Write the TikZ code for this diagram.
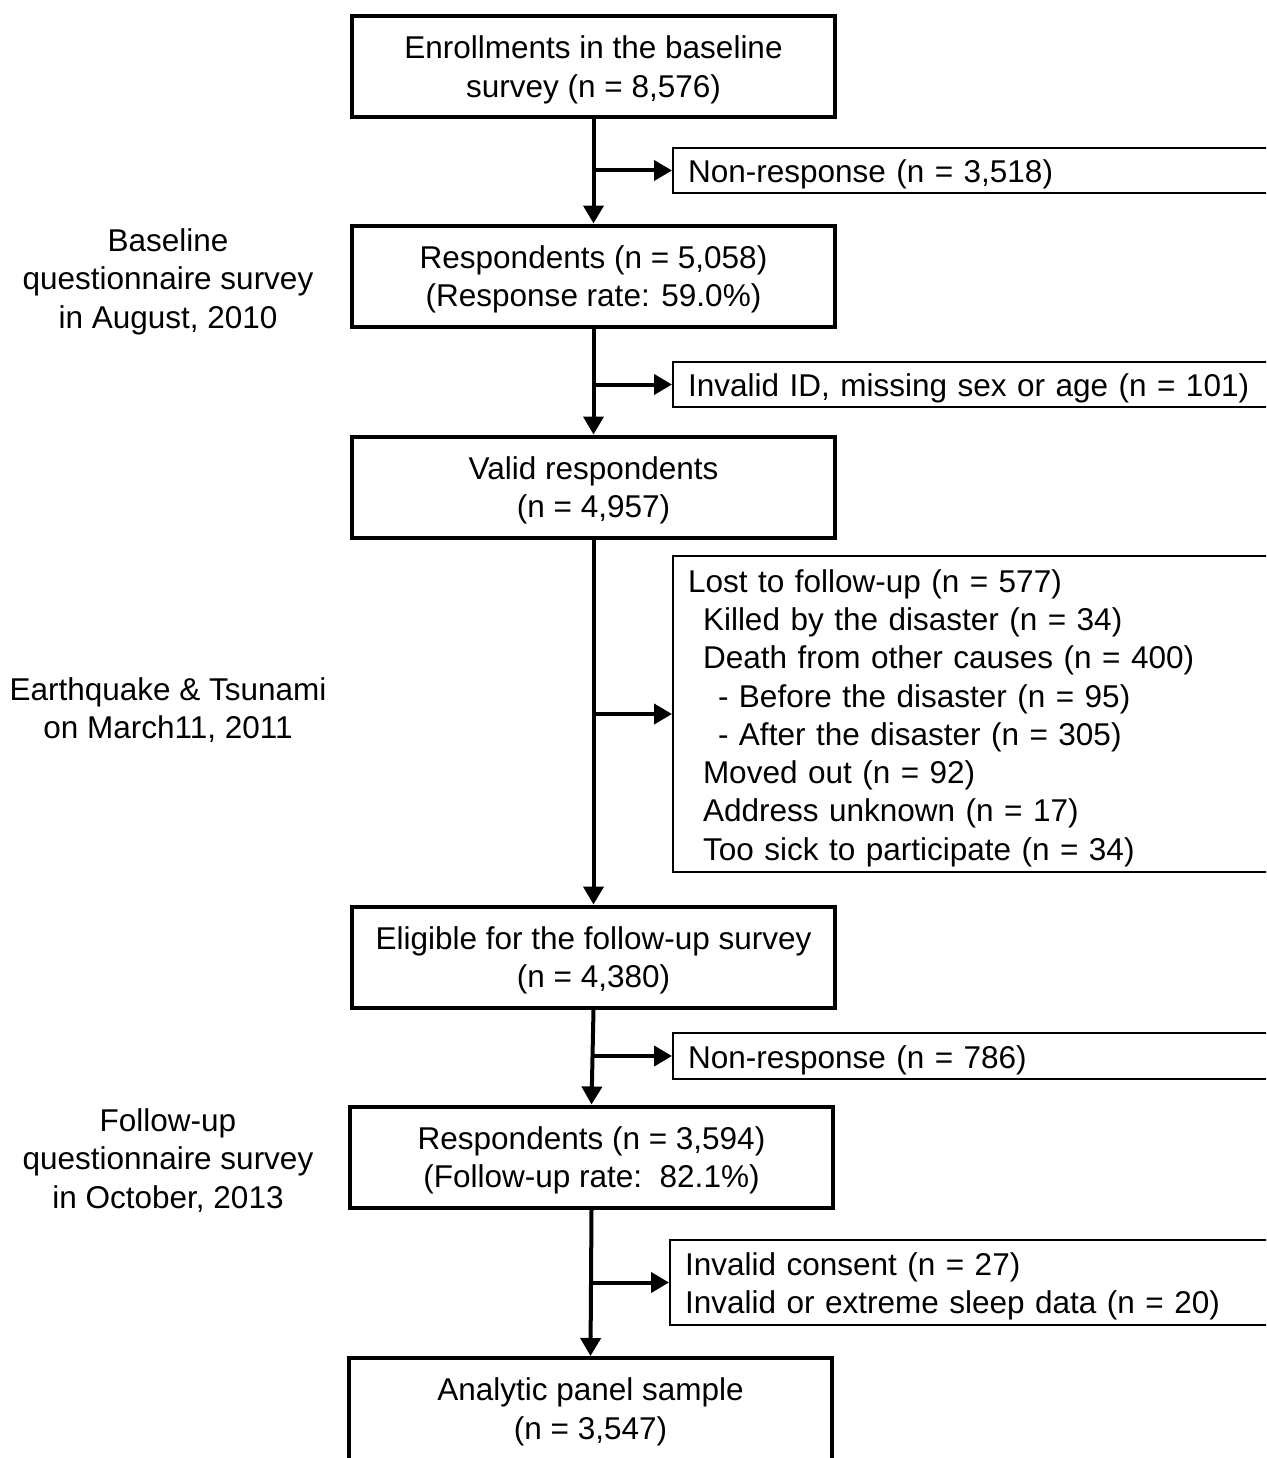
\documentclass[tikz,border=0pt]{standalone}
\usepackage{fontspec}
\setmainfont{Liberation Sans}
\usetikzlibrary{arrows.meta}
\begin{document}
\begin{tikzpicture}[x=1pt,y=-1pt]
\tikzstyle{every node}+=[inner sep=0pt, font=\fontsize{31.5pt}{38.3pt}\selectfont]
\tikzstyle{mainbox}=[draw=black, line width=4pt, minimum width=483pt, minimum height=101pt, align=center, text depth=0pt]
\tikzstyle{sidebox}=[draw=black, line width=2pt, anchor=west, text width=610pt, inner xsep=15pt, align=left, execute at begin node={\rule{0pt}{31pt}}]
\tikzstyle{period}=[align=center, text depth=0pt]
\tikzstyle{arr}=[line width=4pt, -{Triangle[length=18pt,width=20pt]}]
\useasboundingbox (0,0) rectangle (1266,1458);
\clip (0,0) rectangle (1266,1458);
\node [mainbox] (enrol) at (593.5,66.5) {Enrollments in the baseline\\survey (n = 8,576)};
\node [mainbox] (resp1) at (593.5,276) {Respondents (n = 5,058)\\(Response rate: 59.0\%)};
\node [mainbox] (valid) at (593.5,487) {Valid respondents\\(n = 4,957)};
\node [mainbox] (elig) at (593.5,957) {Eligible for the follow-up survey\\(n = 4,380)};
\node [mainbox] (resp2) at (591.5,1157) {Respondents (n = 3,594)\\(Follow-up rate:\ \ 82.1\%)};
\node [mainbox, minimum height=121pt, text depth=20pt] (panel) at (590.5,1418.5) {Analytic panel sample\\(n = 3,547)};
\node [sidebox, minimum height=45pt] (nonresp1) at (672,170.5) {Non-response (n = 3,518)};
\node [sidebox, minimum height=45pt] (invalid) at (672,384.5) {Invalid ID, missing sex or age (n = 101)};
\node [sidebox, minimum height=316pt] (lost) at (672,714) {Lost to follow-up (n = 577)\\
\hspace*{15pt}Killed by the disaster (n = 34)\\
\hspace*{15pt}Death from other causes (n = 400)\\
\hspace*{30pt}- Before the disaster (n = 95)\\
\hspace*{30pt}- After the disaster (n = 305)\\
\hspace*{15pt}Moved out (n = 92)\\
\hspace*{15pt}Address unknown (n = 17)\\
\hspace*{15pt}Too sick to participate (n = 34)};
\node [sidebox, minimum height=46pt] (nonresp2) at (672,1056) {Non-response (n = 786)};
\node [sidebox, minimum height=85pt] (consent) at (669,1282.5) {Invalid consent (n = 27)\\Invalid or extreme sleep data (n = 20)};
\node [period] (baseline) at (168,278.5) {Baseline\\questionnaire survey\\in August, 2010};
\node [period] (quake) at (168,708) {Earthquake \& Tsunami\\on March11, 2011};
\node [period] (followup) at (168,1158.5) {Follow-up\\questionnaire survey\\in October, 2013};
\draw [arr] (enrol.south) -- (resp1.north);
\draw [arr] (enrol.south |- nonresp1.west) -- (nonresp1.west);
\draw [arr] (resp1.south) -- (valid.north);
\draw [arr] (resp1.south |- invalid.west) -- (invalid.west);
\draw [arr] (valid.south) -- (elig.north);
\draw [arr] (valid.south |- lost.west) -- (lost.west);
\draw [arr] (elig.south) -- (resp2.north);
\draw [arr] (elig.south |- nonresp2.west) -- (nonresp2.west);
\draw [arr] (resp2.south) -- (panel.north);
\draw [arr] (resp2.south |- consent.west) -- (consent.west);
\end{tikzpicture}
\end{document}
